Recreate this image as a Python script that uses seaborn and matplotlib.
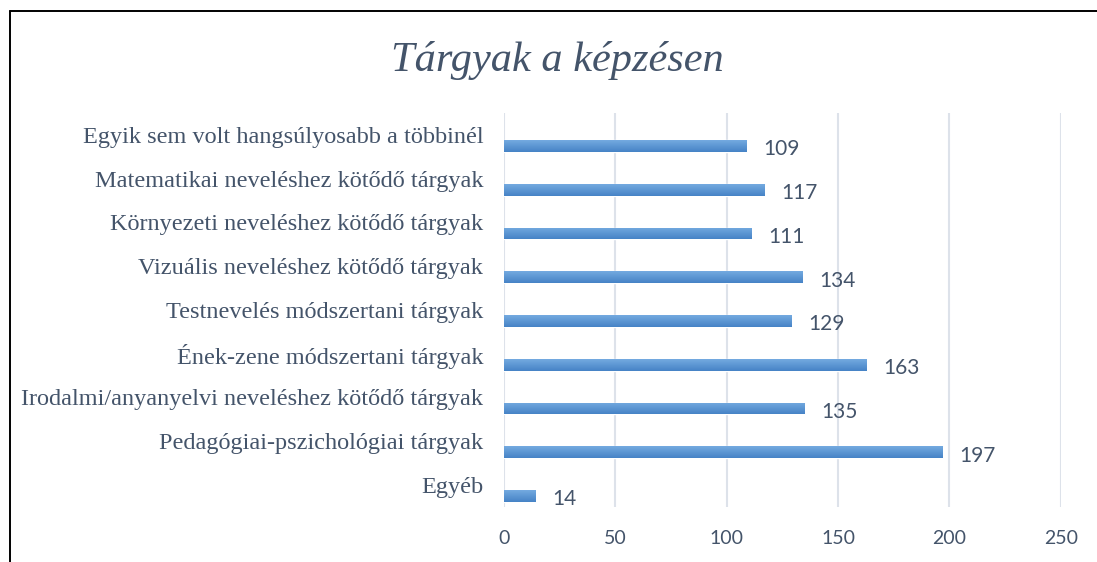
import numpy as np
import pandas as pd
import matplotlib
matplotlib.use('Agg')
import matplotlib.pyplot as plt
import matplotlib.transforms as mtransforms
from matplotlib.colors import LinearSegmentedColormap
from matplotlib.lines import Line2D
import seaborn as sns

sns.set_style('white')

TITLE = 'Tárgyak a képzésen'
CATEGORIES = [
    'Egyik sem volt hangsúlyosabb a többinél',
    'Matematikai neveléshez kötődő tárgyak',
    'Környezeti neveléshez kötődő tárgyak',
    'Vizuális neveléshez kötődő tárgyak',
    'Testnevelés módszertani tárgyak',
    'Ének-zene módszertani tárgyak',
    'Irodalmi/anyanyelvi neveléshez kötődő tárgyak',
    'Pedagógiai-pszichológiai tárgyak',
    'Egyéb',
]
COUNTS = [109, 117, 111, 134, 129, 163, 135, 197, 14]
X_TICKS = [0, 50, 100, 150, 200, 250]

TEXT_COLOR = '#44546A'
BAR_COLOR = '#5B9BD5'
GRID_COLOR = '#DDE2EA'
SERIF = 'Liberation Serif'
SANS = 'Lato'

df = pd.DataFrame({'Tárgy': CATEGORIES, 'Db': COUNTS})

fig = plt.figure(figsize=(10.97, 5.62), dpi=100)
ax = fig.add_axes([0.4594, 0.0984, 0.5075, 0.7011])

sns.barplot(data=df, x='Db', y='Tárgy', orient='h', color=BAR_COLOR,
            width=0.267, saturation=1, ax=ax, zorder=3)

ax.set_xticks(X_TICKS)
ax.set_xlabel('')
ax.set_ylabel('')
for s in ax.spines.values():
    s.set_visible(False)
ax.grid(axis='x', color=GRID_COLOR, linewidth=1.5, zorder=0)
ax.grid(axis='y', visible=False)
ax.tick_params(axis='both', length=0)
ax.tick_params(axis='x', pad=17)
ax.tick_params(axis='y', pad=15)

# light-to-dark gradient on each bar (Excel style fill)
grad_cmap = LinearSegmentedColormap.from_list('bar', ['#74AAE0', '#4683C6'])
grad = np.linspace(0, 1, 64).reshape(-1, 1)
for patch in ax.patches:
    x0, y0 = patch.get_x(), patch.get_y()
    w, h = patch.get_width(), patch.get_height()
    im = ax.imshow(grad, cmap=grad_cmap, aspect='auto', origin='upper',
                   extent=(x0, x0 + w, y0 + h, y0), zorder=4,
                   interpolation='bilinear')
    im.set_clip_path(patch)
ax.set_xlim(0, 250)
ax.set_ylim(8.245, -0.761)

for lbl in ax.get_xticklabels():
    lbl.set_fontfamily(SANS)
    lbl.set_fontsize(14)
    lbl.set_color(TEXT_COLOR)

# category labels sit a bit above the bars, like in the Excel original
shift = mtransforms.ScaledTranslation(0, 0.11, fig.dpi_scale_trans)
for lbl in ax.get_yticklabels():
    lbl.set_fontfamily(SERIF)
    lbl.set_fontsize(17.5)
    lbl.set_color(TEXT_COLOR)
    lbl.set_transform(lbl.get_transform() + shift)

texts = ax.bar_label(ax.containers[0], labels=[str(v) for v in COUNTS],
                     padding=12, fontfamily=SANS, fontsize=15,
                     color=TEXT_COLOR, zorder=5)
for t in texts:
    t.xyann = (t.xyann[0], t.xyann[1] - 2.5)

fig.text(0.508, 0.892, TITLE, ha='center', va='center', fontfamily=SERIF,
         fontstyle='italic', fontsize=30.5, color=TEXT_COLOR)

# frame of the pasted chart (left and top edges visible)
fig.add_artist(Line2D([10 / 1097, 10 / 1097], [0, 1 - 11 / 562],
                      transform=fig.transFigure, color='black', linewidth=1.4))
fig.add_artist(Line2D([10 / 1097, 1], [1 - 11 / 562, 1 - 11 / 562],
                      transform=fig.transFigure, color='black', linewidth=1.4))

fig.savefig('out.png', dpi=100)
